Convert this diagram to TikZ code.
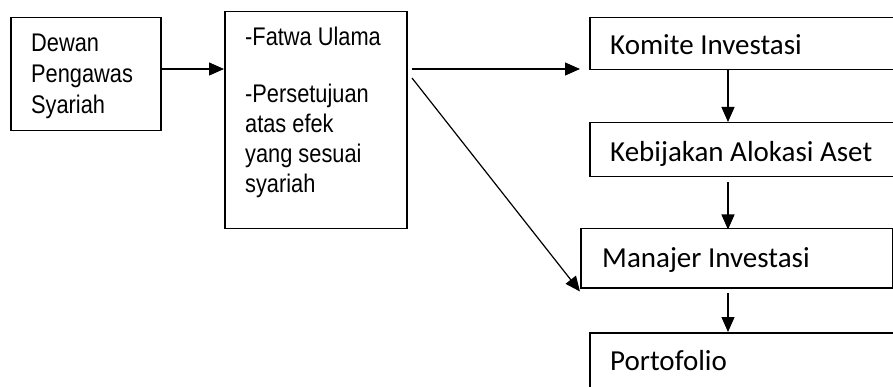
\documentclass[tikz,border=0pt]{standalone}
\usepackage{fontspec}
\newfontfamily\arialf{Liberation Sans}
\newfontfamily\calf{Carlito}
\usetikzlibrary{arrows.meta,calc}
\tikzset{
  box/.style={draw=black, line width=1.5pt, inner sep=0pt, anchor=north west},
  conn/.style={draw=black, line width=1.2pt, -{Triangle[length=15pt,width=13pt]}},
  atext/.style={anchor=base west, inner sep=0pt, xscale=0.855, transform shape, font=\arialf\fontsize{25.5}{30}\selectfont},
  ctext/.style={anchor=base west, inner sep=0pt, font=\calf\fontsize{29}{34}\selectfont}
}
\begin{document}
\begin{tikzpicture}[x=1pt,y=-1pt]
\useasboundingbox (0,0) rectangle (893,387);
\clip (0,0) rectangle (893,387);
\fill[white] (0,0) rectangle (893,387);
% boxes
\node[box, minimum width=150pt, minimum height=113pt] (dps) at (10,17) {};
\node[box, minimum width=182pt, minimum height=217pt] (fatwa) at (224,11) {};
\node[box, minimum width=320pt, minimum height=52pt] (komite) at (589,17) {};
\node[box, minimum width=320pt, minimum height=54pt] (kebijakan) at (589,122) {};
\node[box, minimum width=312pt, minimum height=59pt] (manajer) at (580,228) {};
\node[box, minimum width=320pt, minimum height=70pt] (porto) at (589,332) {};
% texts
\node[atext] (t1a) at (31,52) {Dewan};
\node[atext] (t1b) at (31,82.7) {Pengawas};
\node[atext] (t1c) at (31,113.3) {Syariah};
\node[atext] (t2a) at (245,46) {-Fatwa Ulama};
\node[atext] (t2b) at (245,103) {-Persetujuan};
\node[atext] (t2c) at (245,133) {atas efek};
\node[atext] (t2d) at (245,163) {yang sesuai};
\node[atext] (t2e) at (245,193) {syariah};
\node[ctext] (t3) at (610,55) {Komite Investasi};
\node[ctext] (t4) at (610,162) {Kebijakan Alokasi Aset};
\node[ctext] (t5) at (602,267) {Manajer Investasi};
\node[ctext] (t6) at (610,370) {Portofolio};
% connectors
\coordinate (h1) at (412,69);
\coordinate (h2) at (412,78);
\coordinate (h1end) at (580,69);
\draw[conn] (dps.east |- h1) -- (fatwa.west |- h1);
\draw[conn] (h1) -- (h1end);
\draw[conn] (h2) -- ($(manajer.south west)+(0,3)$);
\draw[conn] ($(komite.south west)+(139,0)$) -- ($(kebijakan.north west)+(139,0)$);
\draw[conn] ($(kebijakan.south west)+(139,5)$) -- ($(kebijakan.south west)+(139,52)$);
\draw[conn] ($(manajer.south west)+(148,4)$) -- ($(porto.north west)+(139,0)$);
\end{tikzpicture}
\end{document}
